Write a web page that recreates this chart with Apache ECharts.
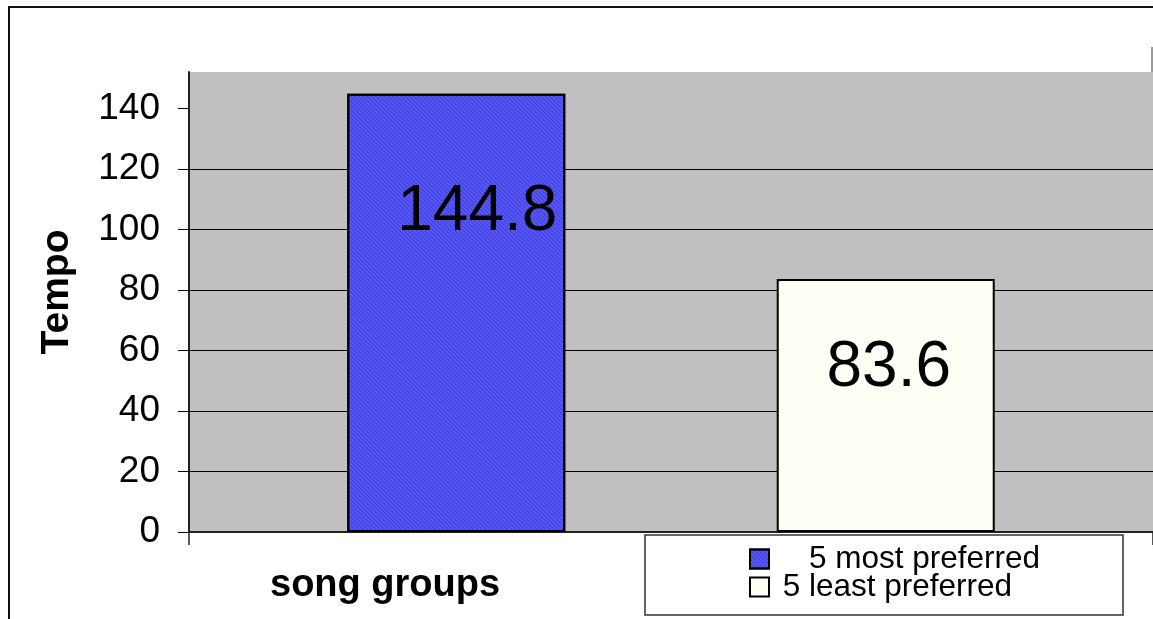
<!DOCTYPE html>
<html>
<head>
<meta charset="utf-8">
<script src="https://cdn.jsdelivr.net/npm/echarts@6/dist/echarts.min.js"></script>
<style>
html,body{margin:0;padding:0;background:#fff;}
#chart{width:1153px;height:619px;}
</style>
</head>
<body>
<div id="chart"></div>
<script>
var categories = ['song groups'];
var seriesNames = ['5 most preferred', '5 least preferred'];
var mostPreferred = [144.8];
var leastPreferred = [83.6];
var yTicks = [0, 20, 40, 60, 80, 100, 120, 140];

var FONT = 'Liberation Sans, Arial, sans-serif';
var chart = echarts.init(document.getElementById('chart'));

chart.setOption({
  animation: false,
  backgroundColor: '#fff',
  title: {
    text: 'song groups',
    left: 270,
    top: 567,
    padding: 0,
    textStyle: { fontFamily: FONT, fontSize: 38, fontWeight: 'bold', color: '#000' }
  },
  legend: [
    {
      data: [seriesNames[0]],
      left: 749, top: 543, padding: 0,
      itemWidth: 19, itemHeight: 19,
      icon: 'rect',
      formatter: function (n) { return '    ' + n; },
      textStyle: { fontFamily: FONT, fontSize: 31.5, color: '#000' }
    },
    {
      data: [seriesNames[1]],
      left: 749, top: 571, padding: 0,
      itemWidth: 19, itemHeight: 19,
      icon: 'rect',
      formatter: function (n) { return ' ' + n; },
      textStyle: { fontFamily: FONT, fontSize: 31.5, color: '#000' }
    }
  ],
  graphic: [
    { type: 'rect', z: 0, shape: { x: 9, y: 7, width: 1170, height: 700 },
      style: { fill: null, stroke: '#111', lineWidth: 2 } },
    { type: 'line', z: 0, shape: { x1: 1152, y1: 47, x2: 1152, y2: 72 },
      style: { stroke: '#777', lineWidth: 1.5 } },
    { type: 'rect', z: 0, shape: { x: 645, y: 535, width: 478, height: 80 },
      style: { fill: '#fff', stroke: '#333', lineWidth: 1.5 } }
  ],
  grid: {
    left: 189, top: 72, width: 982, height: 460,
    show: true, backgroundColor: '#C0C0C0', borderWidth: 0,
    containLabel: false
  },
  xAxis: {
    type: 'category',
    data: categories,
    axisLabel: { show: false },
    axisTick: { show: true, length: 13, lineStyle: { color: '#222', width: 1.5 } },
    axisLine: { show: true, lineStyle: { color: '#222', width: 2 } },
    splitLine: { show: false }
  },
  yAxis: {
    type: 'value',
    min: 0, max: 152, interval: 20,
    name: 'Tempo',
    nameLocation: 'middle',
    nameGap: 112,
    nameRotate: 90,
    nameTextStyle: { fontFamily: FONT, fontSize: 39, fontWeight: 'bold', color: '#000', padding: [0, 0, 0, 20] },
    axisLine: { show: true, lineStyle: { color: '#222', width: 2 } },
    axisTick: { show: true, length: 11, customValues: yTicks, lineStyle: { color: '#000', width: 1 } },
    axisLabel: { fontFamily: FONT, fontSize: 37, color: '#000', margin: 29, customValues: yTicks },
    splitLine: { show: true, showMinLine: false, showMaxLine: false, lineStyle: { color: '#000', width: 1 } }
  },
  series: [
    {
      name: seriesNames[0],
      type: 'bar',
      data: mostPreferred,
      barWidth: 218,
      barGap: '97%',
      itemStyle: {
        color: '#5858F8',
        borderColor: '#000',
        borderWidth: 2,
        decal: {
          symbol: 'rect',
          symbolSize: 1,
          dashArrayX: [1, 0],
          dashArrayY: [1, 2],
          rotation: Math.PI / 4,
          color: 'rgba(40,40,190,0.55)'
        }
      },
      label: {
        show: true, position: 'insideTop', distance: 87, offset: [21, 0],
        fontFamily: FONT, fontSize: 64, color: '#000'
      }
    },
    {
      name: seriesNames[1],
      type: 'bar',
      data: leastPreferred,
      barWidth: 218,
      barGap: '97%',
      itemStyle: { color: '#FFFFF5', borderColor: '#000', borderWidth: 2 },
      label: {
        show: true, position: 'insideTop', distance: 57, offset: [3, 0],
        fontFamily: FONT, fontSize: 64, color: '#000'
      }
    }
  ]
});
</script>
</body>
</html>
